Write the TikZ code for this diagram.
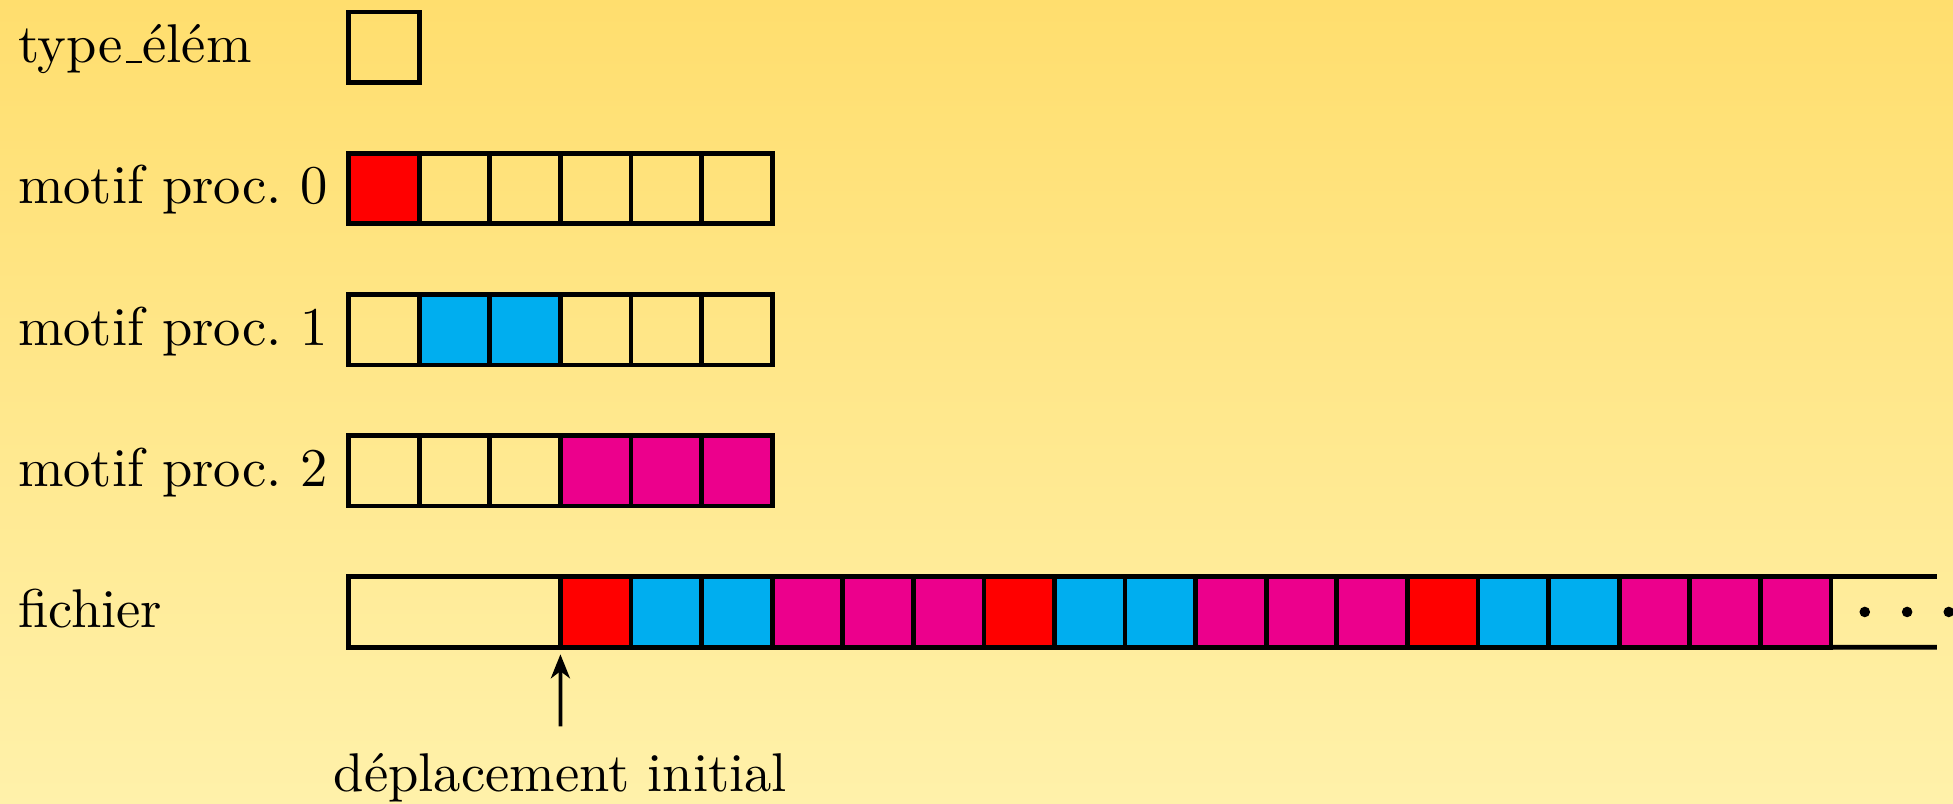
\documentclass[tikz,border=0pt]{standalone}
\usepackage{graphicx}
\usetikzlibrary{arrows.meta,shadings}
\definecolor{bgtop}{RGB}{255,222,110}
\definecolor{bgbot}{RGB}{255,241,170}
\definecolor{cR}{RGB}{255,0,0}
\definecolor{cC}{RGB}{0,174,239}
\definecolor{cM}{RGB}{236,0,140}
\newcommand\bigtxt[1]{\scalebox{2.2}{\fontsize{10}{12}\selectfont #1}}
\newcommand\undsc{\leavevmode\kern.06em\vbox{\hrule width.3em}}
\tikzset{
  cell/.style={draw=black, line width=1.9pt, minimum width=1cm, minimum height=1cm, inner sep=0pt, outer sep=0pt},
  lbl/.style={anchor=base west, inner sep=0pt},
  arr/.style={line width=1.5pt, -{Stealth[length=0.34cm, width=0.27cm, inset=0.1cm]}},
}
\begin{document}
\begin{tikzpicture}
\shade[top color=bgtop, bottom color=bgbot] (0,0) rectangle (27.67,-11.39);
\useasboundingbox (0,0) rectangle (27.67,-11.39);
% labels
\node[lbl] (l0) at (0.25,-0.89) {\bigtxt{type\undsc élém}};
\node[lbl] (l1) at (0.25,-2.89) {\bigtxt{motif proc.\ 0}};
\node[lbl] (l2) at (0.25,-4.89) {\bigtxt{motif proc.\ 1}};
\node[lbl] (l3) at (0.25,-6.89) {\bigtxt{motif proc.\ 2}};
\node[lbl] (l4) at (0.25,-8.89) {\bigtxt{fichier}};
% type_elem
\node[cell] (t0) at (5.44,-0.67) {};
% motif 0
\foreach \i/\c in {0/cR,1/none,2/none,3/none,4/none,5/none}
  \node[cell, fill=\c] (a\i) at ({5.44+\i},-2.67) {};
% motif 1
\foreach \i/\c in {0/none,1/cC,2/cC,3/none,4/none,5/none}
  \node[cell, fill=\c] (b\i) at ({5.44+\i},-4.67) {};
% motif 2
\foreach \i/\c in {0/none,1/none,2/none,3/cM,4/cM,5/cM}
  \node[cell, fill=\c] (c\i) at ({5.44+\i},-6.67) {};
% fichier
\node[cell, minimum width=3cm] (fb) at (6.44,-8.67) {};
\foreach \i/\c in {0/cR,1/cC,2/cC,3/cM,4/cM,5/cM,6/cR,7/cC,8/cC,9/cM,10/cM,11/cM,12/cR,13/cC,14/cC,15/cM,16/cM,17/cM}
  \node[cell, fill=\c] (f\i) at ({8.44+\i},-8.67) {};
\coordinate (et) at (27.44,-8.17);
\coordinate (eb) at (27.44,-9.17);
\draw[line width=1.9pt] (f17.north east) -- (et);
\draw[line width=1.9pt] (f17.south east) -- (eb);
\foreach \x [count=\k] in {26.42,27.02,27.61}
  \fill (\x,-8.67) circle (0.075) coordinate (d\k);
% offset
\node[anchor=base, inner sep=0pt] (dep) at (7.94,-11.22) {\bigtxt{déplacement initial}};
\coordinate (as) at (7.94,-10.29);
\draw[arr] (as) -- ([yshift=-0.1cm]fb.south east);
\end{tikzpicture}
\end{document}
